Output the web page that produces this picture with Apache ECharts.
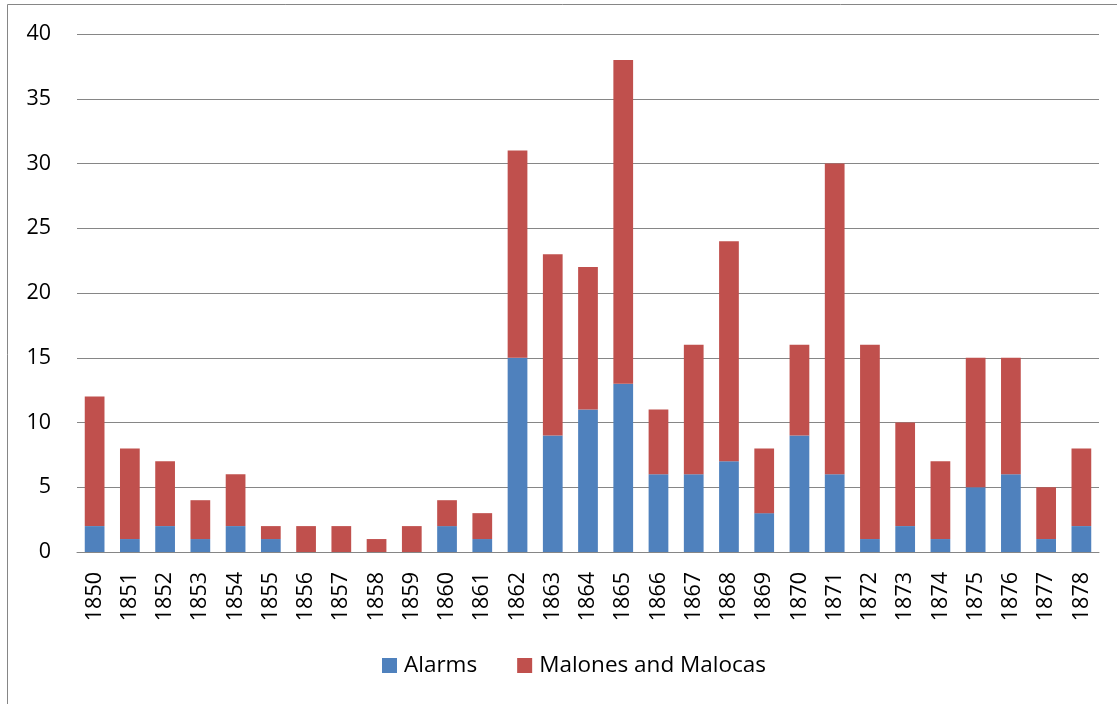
<!DOCTYPE html>
<html>
<head>
<meta charset="utf-8">
<script src="https://cdn.jsdelivr.net/npm/echarts@6/dist/echarts.min.js"></script>
<style>html,body{margin:0;padding:0;background:#fff;}#c{width:1117px;height:704px;}</style>
</head>
<body>
<div id="c"></div>
<script>
const years = ['1850','1851','1852','1853','1854','1855','1856','1857','1858','1859','1860','1861','1862','1863','1864','1865','1866','1867','1868','1869','1870','1871','1872','1873','1874','1875','1876','1877','1878'];
const alarms = [2,1,2,1,2,1,0,0,0,0,2,1,15,9,11,13,6,6,7,3,9,6,1,2,1,5,6,1,2];
const malones = [10,7,5,3,4,1,2,2,1,2,2,2,16,14,11,25,5,10,17,5,7,24,15,8,6,10,9,4,6];
const yTicks = {min:0, max:40, interval:5};

const FONT = 'Open Sans';
const chart = echarts.init(document.getElementById('c'), null, {renderer:'canvas'});
chart.setOption({
  animation:false,
  backgroundColor:'#fff',
  textStyle:{fontFamily:FONT},
  graphic:[{type:'rect', shape:{x:7.5,y:4.5,width:1300,height:900}, style:{fill:'none', stroke:'#868686', lineWidth:1}, silent:true}],
  grid:{left:77, right:18, top:34, bottom:152, containLabel:false},
  legend:{
    left:377, top:649, itemWidth:15, itemHeight:15, itemGap:40,
    icon:'rect',
    textStyle:{fontFamily:FONT, fontSize:22.5, color:'#000', padding:[0,0,0,2]},
    data:['Alarms','Malones and Malocas']
  },
  xAxis:{
    type:'category', data:years,
    axisTick:{show:false},
    axisLine:{lineStyle:{color:'#868686', width:1}},
    axisLabel:{rotate:90, interval:0, margin:20, fontFamily:FONT, fontSize:21.5, color:'#000'}
  },
  yAxis:{
    type:'value', min:yTicks.min, max:yTicks.max, interval:yTicks.interval,
    axisLine:{show:false}, axisTick:{show:false},
    splitLine:{lineStyle:{color:'#868686', width:1}},
    axisLabel:{margin:26, fontFamily:FONT, fontSize:21.5, color:'#000'}
  },
  series:[
    {name:'Alarms', type:'bar', stack:'t', data:alarms, barCategoryGap:'44%', itemStyle:{color:'#4F81BD'}},
    {name:'Malones and Malocas', type:'bar', stack:'t', data:malones, barCategoryGap:'44%', itemStyle:{color:'#C0504D'}}
  ]
});
</script>
</body>
</html>
